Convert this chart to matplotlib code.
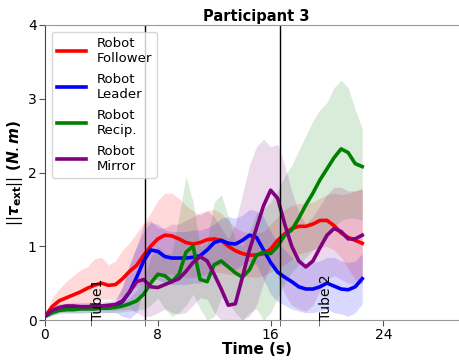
import numpy as np
import matplotlib
matplotlib.use('Agg')
import matplotlib.pyplot as plt

# time grid (s), one sample every 0.5 s
t = np.arange(0, 22.51, 0.5)

# mean torque norms
follower = [0.05, 0.18, 0.26, 0.30, 0.34, 0.38, 0.43, 0.47, 0.50, 0.47,
            0.48, 0.56, 0.66, 0.74, 0.88, 1.00, 1.10, 1.15, 1.14, 1.10,
            1.05, 1.03, 1.05, 1.09, 1.10, 1.08, 1.00, 0.94, 0.90, 0.88,
            0.88, 0.90, 0.96, 1.08, 1.17, 1.24, 1.27, 1.27, 1.30, 1.35,
            1.35, 1.28, 1.18, 1.12, 1.08, 1.04]
leader = [0.05, 0.12, 0.15, 0.16, 0.16, 0.16, 0.16, 0.17, 0.17, 0.17,
          0.18, 0.25, 0.38, 0.58, 0.80, 0.95, 0.93, 0.86, 0.84, 0.84,
          0.84, 0.85, 0.87, 0.95, 1.05, 1.08, 1.04, 1.03, 1.08, 1.15,
          1.12, 0.95, 0.78, 0.65, 0.58, 0.52, 0.45, 0.42, 0.42, 0.45,
          0.50, 0.46, 0.42, 0.41, 0.45, 0.56]
recip = [0.05, 0.10, 0.13, 0.14, 0.14, 0.15, 0.15, 0.15, 0.16, 0.16,
         0.17, 0.19, 0.22, 0.26, 0.35, 0.50, 0.62, 0.60, 0.52, 0.62,
         0.92, 1.00, 0.55, 0.52, 0.75, 0.80, 0.72, 0.64, 0.58, 0.68,
         0.88, 0.92, 0.90, 1.00, 1.15, 1.22, 1.38, 1.56, 1.72, 1.90,
         2.05, 2.20, 2.32, 2.27, 2.12, 2.08]
mirror = [0.05, 0.13, 0.17, 0.19, 0.19, 0.18, 0.18, 0.19, 0.19, 0.20,
          0.21, 0.26, 0.38, 0.52, 0.55, 0.45, 0.44, 0.48, 0.52, 0.56,
          0.66, 0.78, 0.86, 0.80, 0.62, 0.42, 0.20, 0.22, 0.58, 0.95,
          1.25, 1.55, 1.76, 1.65, 1.30, 1.00, 0.80, 0.72, 0.80, 0.98,
          1.15, 1.24, 1.20, 1.10, 1.10, 1.15]

# spread bands (lower / upper)
follower_lo = [0.03, 0.06, 0.10, 0.12, 0.15, 0.18, 0.22, 0.25, 0.28, 0.28,
               0.28, 0.33, 0.40, 0.45, 0.50, 0.55, 0.60, 0.62, 0.62, 0.60,
               0.58, 0.58, 0.60, 0.62, 0.65, 0.64, 0.62, 0.61, 0.60, 0.59,
               0.58, 0.60, 0.65, 0.70, 0.75, 0.82, 0.90, 0.92, 0.95, 0.98,
               1.00, 0.95, 0.85, 0.70, 0.55, 0.50]
follower_hi = [0.05, 0.30, 0.42, 0.52, 0.60, 0.68, 0.72, 0.83, 0.85, 0.75,
               0.80, 0.95, 1.05, 1.18, 1.32, 1.45, 1.62, 1.72, 1.72, 1.65,
               1.55, 1.48, 1.42, 1.48, 1.50, 1.45, 1.35, 1.25, 1.20, 1.18,
               1.18, 1.20, 1.30, 1.40, 1.50, 1.55, 1.58, 1.58, 1.60, 1.65,
               1.70, 1.72, 1.70, 1.72, 1.75, 1.78]
leader_lo = [0.03, 0.07, 0.10, 0.10, 0.10, 0.10, 0.10, 0.10, 0.10, 0.10,
             0.10, 0.05, 0.02, 0.10, 0.40, 0.55, 0.55, 0.50, 0.48, 0.48,
             0.48, 0.50, 0.50, 0.60, 0.72, 0.75, 0.70, 0.68, 0.75, 0.80,
             0.75, 0.55, 0.35, 0.25, 0.20, 0.15, 0.12, 0.10, 0.10, 0.12,
             0.15, 0.10, 0.08, 0.05, 0.10, 0.22]
leader_hi = [0.05, 0.16, 0.20, 0.21, 0.22, 0.22, 0.22, 0.22, 0.22, 0.23,
             0.25, 0.45, 0.75, 1.00, 1.20, 1.32, 1.30, 1.22, 1.20, 1.20,
             1.20, 1.22, 1.22, 1.25, 1.30, 1.38, 1.40, 1.38, 1.42, 1.50,
             1.48, 1.40, 1.20, 1.05, 0.95, 0.85, 0.80, 0.75, 0.78, 0.80,
             0.85, 0.85, 0.80, 0.78, 0.80, 0.90]
recip_lo = [0.03, 0.06, 0.08, 0.09, 0.09, 0.09, 0.10, 0.10, 0.10, 0.10,
            0.10, 0.11, 0.12, 0.13, 0.15, 0.20, 0.30, 0.15, 0.05, 0.10,
            0.20, 0.35, 0.15, 0.00, 0.05, 0.30, 0.25, 0.10, 0.00, 0.10,
            0.15, 0.00, 0.10, 0.30, 0.50, 0.65, 0.75, 0.85, 0.95, 1.00,
            1.10, 1.25, 1.35, 1.38, 1.38, 1.35]
recip_hi = [0.05, 0.15, 0.18, 0.19, 0.20, 0.20, 0.20, 0.20, 0.20, 0.21,
            0.22, 0.25, 0.30, 0.40, 0.55, 0.85, 1.00, 0.90, 0.90, 1.40,
            1.95, 1.60, 1.00, 1.05, 1.60, 1.70, 1.40, 1.10, 1.00, 1.20,
            1.45, 1.50, 1.60, 1.75, 1.95, 2.10, 2.30, 2.50, 2.70, 2.85,
            2.95, 3.15, 3.25, 3.15, 2.85, 2.60]
mirror_lo = [0.03, 0.08, 0.12, 0.13, 0.14, 0.13, 0.13, 0.13, 0.13, 0.13,
             0.13, 0.14, 0.15, 0.10, 0.05, 0.05, 0.10, 0.15, 0.10, 0.08,
             0.10, 0.20, 0.30, 0.28, 0.10, 0.00, 0.00, 0.00, 0.00, 0.05,
             0.20, 0.50, 0.75, 0.60, 0.35, 0.20, 0.15, 0.12, 0.20, 0.40,
             0.55, 0.60, 0.55, 0.50, 0.48, 0.50]
mirror_hi = [0.05, 0.18, 0.22, 0.23, 0.24, 0.24, 0.24, 0.24, 0.25, 0.26,
             0.28, 0.45, 0.75, 1.00, 1.30, 1.35, 1.25, 1.25, 1.30, 1.30,
             1.35, 1.40, 1.45, 1.48, 1.40, 1.25, 1.10, 1.30, 1.70, 2.10,
             2.35, 2.45, 2.35, 2.38, 2.10, 1.75, 1.45, 1.30, 1.40, 1.55,
             1.70, 1.80, 1.80, 1.75, 1.75, 1.78]

labels = ['Robot\nFollower', 'Robot\nLeader', 'Robot\nRecip.', 'Robot\nMirror']
colors = ['red', 'blue', 'green', 'purple']
means = [follower, leader, recip, mirror]
lows = [follower_lo, leader_lo, recip_lo, mirror_lo]
highs = [follower_hi, leader_hi, recip_hi, mirror_hi]

tube_times = [7.1, 16.7]

fig = plt.figure(figsize=(4.6, 3.6), dpi=100)
ax = fig.add_axes([45 / 460, 40 / 360, 423 / 460, 295 / 360])

for m, lo, hi, c, lab in zip(means, lows, highs, colors, labels):
    ax.fill_between(t, lo, hi, color=c, alpha=0.15, linewidth=0)
    ax.plot(t, m, color=c, lw=2.6, label=lab)

for x in tube_times:
    ax.axvline(x, color='k', lw=1)

ax.text(3.25, 0.0, 'Tube1', rotation=90, ha='left', va='bottom', fontsize=10)
ax.text(19.4, 0.0, 'Tube 2', rotation=90, ha='left', va='bottom', fontsize=10)

ax.set_xlim(0, 30)
ax.set_ylim(0, 4)
ax.set_xticks([0, 8, 16, 24])
ax.set_xticks([3.25, 7.1, 16.7, 19.4], minor=True)
ax.set_yticks([0, 1, 2, 3, 4])
ax.tick_params(axis='both', which='both', labelsize=10, length=4,
               color='#555555', pad=2)

for s in ['top', 'bottom', 'right']:
    ax.spines[s].set_color('#999999')
ax.spines['left'].set_color('#444444')

ax.set_title('Participant 3', fontsize=10.5, fontweight='bold', pad=3)
ax.set_xlabel('Time (s)', fontsize=11, fontweight='bold', labelpad=0)
ax.set_ylabel(r'$||\boldsymbol{\tau}_{\mathbf{ext}}||\ \boldsymbol{(N.m)}$',
              fontsize=11, labelpad=2)

ax.legend(loc='upper left', fontsize=9.5, handlelength=2.2, labelspacing=0.6)

fig.savefig('out.png', dpi=100)
